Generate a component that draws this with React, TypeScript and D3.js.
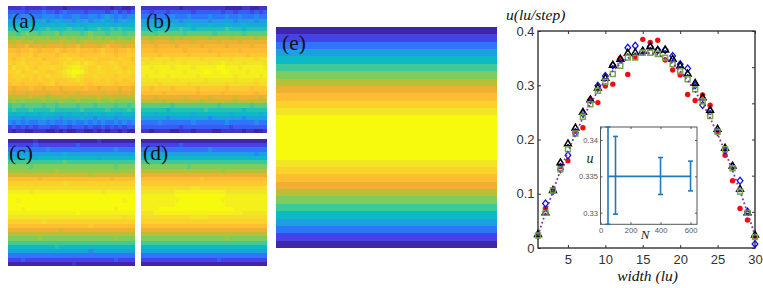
import React, { useEffect, useRef } from 'react';
import * as d3 from 'd3';

// levels of the stepped colour bar, one colour per level
const heatColors = ['#3e26a8', '#4543e8', '#2f74fb', '#1fa0e0', '#08b9c5', '#3cc99a', '#7dcc5c', '#bcbf35', '#ecb030', '#ffbe33', '#fbd22c', '#f1e525', '#f8fa0f'];

// cells, one char per cell, base 36, half levels
const panelA = [
  '111211112111101111111111011001',
  '333323334332343333233332342323',
  '454555445554544554455456545455',
  '666576667567666566756676656766',
  '788778877787887787788878778788',
  '99a99a899a9999a999899a99a9a999',
  'bbabcbbabbbcabbbbabcbbbabbbabb',
  'cdcdccddcdccddcdcccdcdcdccdccd',
  'eefeefdeeeeefeeedefeeeeefeeeee',
  'gfgghfggfggggfgghfgggfghgggfgg',
  'iihiijihiiijihiijiiihijiihiiji',
  'jjijjkijjjjijkjjjijjjjkjjijjkj',
  'jijkjjjkijjjkklkkkjjkjjjjjkjji',
  'kjkljkkjkkjjklklmkmlkjkklkjkkj',
  'jlkklkjkkklkklmnnmlkklkkklkjkk',
  'kkljkklkkjjklmnoonlkkllkkklklk',
  'jkklkkjkklkkklmnmlkklkkkkjkkkj',
  'jjkjjkjkjjkjjjkklkjjkkjkjjkjjj',
  'ijjijjjijjkijjjjjkjijjjjjijjji',
  'hghhhihhghhhghhhhhihhghhhhghhg',
  'gfggfggggfgggfggfgggggfgggfggf',
  'eeeeefeeedeeefeeeeeeefeeeeeeee',
  'cdcdccccdcccdcccdccccdccdccccc',
  'abbabbbbabbabbbbabbbabbbbabbab',
  '9a999a9999a999999a99999a9999a9',
  '878878878887787887878878877887',
  '666566667666566667665666656666',
  '545454455454454544545454454545',
  '232323233322332333232232323233',
  '101100111001010011001010110100',
];
const panelB = [
  '111111111011111111110000110011',
  '332333233333233333323323332323',
  '444544454445444454445445444544',
  '666656666566666656666656666566',
  '777877787778777787778777877777',
  '999899999a9989999999a999899999',
  'bbbabbbbbbabbbbbbabbbbbbabbbbb',
  'eedeeeededeeeeeedeeeedeeeeedee',
  'ggfggggfggggfgggggfggggfgggggg',
  'hhhghhhhghhhhhghhhhhghhhhhghhh',
  'iiihiiiiiihiiiiihiiiiiihiiiiii',
  'jjjjijjjjjjijjjjjjijjjjjjijjjj',
  'llkllllkllllllkllllllklllllkll',
  'mlmmmlmmmmlmmmmmlmmnmmmmlmmmml',
  'nnmnnnnmnnnnmnnnnnoonnnmnnnnnm',
  'nnnmnnnnnnmnnnnoonnoonnnnmnnnn',
  'nmnnnnmnnnnnnmnnnnnnnnmnnnnnmn',
  'mmmlmmmmlmmmmmmlmmmmmmlmmmmlmm',
  'llllkllllllkllllllllkllllllkll',
  'jjijjjjijjjjjijjjjjjijjjjjijjj',
  'iiiiihiiiiiiihiiiiihiiiiiiihii',
  'gggfggggggfgggggfgggggfgggggfg',
  'eeeeedeeeeeeeedeeeeeeedeeeeeee',
  'bbbbbbbabbbbbbbbbbabbbbbbbabbb',
  '999999899999999a99999999899999',
  '888788888888788888888788888878',
  '666666566666666656666666566666',
  '444454444444544444445444444544',
  '333333333233333333333233333333',
  '110111100111011110011111011001',
];
const panelC = [
  '000000100000000000000100000000',
  '222222322222222232222222222222',
  '444444444544444444444444454444',
  '666666666666676666666666666666',
  '888888788888888888888788888888',
  'aaaaaaaaaaaaabaaaaaaaaaaaaaaaa',
  'cccccbcccccccccccccccccccbcccc',
  'dddddddddddeddddddddddddddddde',
  'fffffffffffffffffffeffffffffff',
  'iiiiiiihiiiiiiiiiiiiiiiihiiiii',
  'kkkkkkkkkkkkklkkkkkkkkkkkkkkkk',
  'llllllllllllllllllllllllllllll',
  'nnnnnmnnnnnnnnnnnnnnnnmnnnnnnn',
  'oooooooooooooooooooooooooooooo',
  'oonoooooooooooooooooooooooonoo',
  'oooooooooooooooooooooooooooooo',
  'ooonooooooooooooooooooooonoooo',
  'nnnnnnnnnnnnnnnnonnnnnnnnnnnnn',
  'mmmmmmmmmmmmmmmmmmmmmmmmmmmlmm',
  'kkkkkkkklkkkkkkkkkkkkkkkkkkkkk',
  'iiiiiiiiiiiiiiiiiiijiiiiiiiiii',
  'ggggggggggggfggggggggggggggggg',
  'eeeeeeeeeeeeeeeeeeeeeeeeeeeeee',
  'cccccccdcccccccccccccccccdcccc',
  'aaaaaaaaaaaaaaaaaaaaaaaaaaaaaa',
  '888888888889888888888888888888',
  '666666666666666666656666666666',
  '444444444444444444444444444444',
  '222322222222222222222222232222',
  '000000000000000100000000000000',
];
const panelD = [
  '000000000000000000000000000000',
  '222222222322222222222222222222',
  '444444444444444454444444444444',
  '666666666666666666666666666566',
  '888878888888888888888888888888',
  'aaaaaaaaaaaaaaaaaaaaaaaaaaaaaa',
  'cccccccccccbcccccccccccccccccc',
  'eeeeeeeeeeeeeeeeeeedeeeeeeeeee',
  'gggggggggggggggggggggggggggggg',
  'iiiiiiiiiiiiiijiiiiiiiiiiiiiii',
  'jjjjjjjjjjjjjjjjjjjjjjjjjjjjjj',
  'llllllllllllmmllllllllllllllll',
  'mmmmmmmmnnnnnnnnnnnnmmmmmmmmmm',
  'nnnnnnnnoooooooooooonnnnnnnnnn',
  'nnnnnnnnnoooooooooonnnnnnnnnnn',
  'nnnnnnnnoooooooooooonnnnnnnnnn',
  'nnnnoooooooooooooooooonnnnnnnn',
  'mmmnnnnnnnnnnnnnnnnnnnnnmmmmmm',
  'llllllllllllmmmmllllllllllllll',
  'kkkkkkkkkkkkkkkkkkkkkkkkkkkkkk',
  'iiiiiiiiiiiiiiiiiiiiiiiiiiiiii',
  'gggggggggggggggggggggggggggggg',
  'eeeeeeeeeeeeeeeeeeeeeeeeeeeeee',
  'ccccccccccccccccccccdccccccccc',
  'aaaaaaaaaaaaaaaaaaaaaaaaaaaaaa',
  '888888888888888888888888888888',
  '666666666666666666666666666666',
  '444444444444444444444444444444',
  '222222222222222222322222222222',
  '000000000000000000000000000000',
];
const panelE = ['0', '2', '4', '6', '8', 'a', 'c', 'e', 'g', 'i', 'k', 'm', 'o', 'o', 'o', 'o', 'o', 'o', 'm', 'k', 'i', 'g', 'e', 'c', 'a', '8', '6', '4', '2', '0'];

const widths = [1, 2, 3, 4, 5, 6, 7, 8, 9, 10, 11, 12, 13, 14, 15, 16, 17, 18, 19, 20, 21, 22, 23, 24, 25, 26, 27, 28, 29, 30];
const redVals = [0.023, 0.073, 0.105, 0.15, 0.161, 0.215, 0.2217, 0.273, 0.268, 0.2986, 0.302, 0.35, 0.32, 0.351, 0.3846, 0.379, 0.383, 0.3465, 0.328, 0.319, 0.283, 0.272, 0.282, 0.263, 0.214, 0.171, 0.124, 0.073, 0.0516, 0.021];
const blueVals = [0.023, 0.082, 0.105, 0.145, 0.171, 0.212, 0.248, 0.273, 0.299, 0.317, 0.337, 0.348, 0.369, 0.373, 0.362, 0.371, 0.365, 0.365, 0.354, 0.3385, 0.331, 0.3, 0.2635, 0.2525, 0.214, 0.18, 0.15, 0.124, 0.067, 0.0074];
const blackVals = [0.025, 0.065, 0.106, 0.157, 0.192, 0.221, 0.25, 0.273, 0.295, 0.313, 0.337, 0.348, 0.359, 0.36, 0.363, 0.371, 0.364, 0.365, 0.348, 0.3355, 0.3207, 0.3035, 0.277, 0.254, 0.219, 0.184, 0.151, 0.108, 0.065, 0.024];
const greenVals = [0.023, 0.065, 0.106, 0.145, 0.182, 0.211, 0.242, 0.265, 0.29, 0.3065, 0.3207, 0.336, 0.351, 0.351, 0.36, 0.36, 0.3575, 0.351, 0.3385, 0.326, 0.311, 0.2925, 0.27, 0.243, 0.214, 0.182, 0.147, 0.104, 0.065, 0.02];
const purpleVals = [0.023, 0.065, 0.105, 0.143, 0.178, 0.21, 0.24, 0.266, 0.289, 0.309, 0.326, 0.34, 0.35, 0.356, 0.359, 0.359, 0.356, 0.35, 0.34, 0.326, 0.309, 0.289, 0.266, 0.24, 0.21, 0.178, 0.143, 0.105, 0.065, 0.023];

const insetN = [50, 100, 400, 600];
const insetU = [0.335, 0.335, 0.335, 0.335];
const insetLow = [0.3284, 0.3298, 0.3325, 0.333];
const insetHigh = [0.3418, 0.3405, 0.3376, 0.3371];

const xTicks = [5, 10, 15, 20, 25, 30];
const yTicks = [0, 0.1, 0.2, 0.3, 0.4];
const rightTicks = [0, 1, 2, 3, 4, 5, 6];
const insetXTicks = [0, 200, 400, 600];
const insetYTicks = [0.33, 0.335, 0.34];

const SERIF = '"Liberation Serif", serif';
const SANS = '"Liberation Sans", Arial, sans-serif';

function drawPanel(svg, levels, box, name, lx, ly) {
  const color = d3.scaleLinear<string>().domain(d3.range(heatColors.length)).range(heatColors);
  const rows = levels.length;
  const cols = levels[0].length;
  const xb = d3.scaleBand().domain(d3.range(cols).map(String)).range([box.x0, box.x1]);
  const yb = d3.scaleBand().domain(d3.range(rows).map(String)).range([box.y0, box.y1]);
  const g = svg.append('g').attr('class', 'panel').attr('filter', 'url(#soft)').style('shape-rendering', 'crispEdges');
  levels.forEach((row, r) => {
    for (let c = 0; c < cols; c++) {
      g.append('rect')
        .attr('x', xb(String(c)))
        .attr('y', yb(String(r)))
        .attr('width', xb.bandwidth() + (c < cols - 1 ? 0.5 : 0))
        .attr('height', yb.bandwidth() + (r < rows - 1 ? 0.5 : 0))
        .attr('fill', color(parseInt(row[c], 36) / 2));
    }
  });
  svg
    .append('text')
    .attr('x', lx)
    .attr('y', ly)
    .style('font-family', SERIF)
    .style('font-size', '21.5px')
    .style('fill', '#111')
    .text(name);
}

function styleAxis(g, size, color) {
  g.select('.domain').remove();
  g.selectAll('line').attr('stroke', color);
  g.selectAll('text').style('font-family', SANS).style('font-size', size).style('fill', color);
}

function drawChart(svg) {
  const x = d3.scaleLinear().domain([1, 30]).range([538, 755]);
  const y = d3.scaleLinear().domain([0, 0.4]).range([248, 31]);
  const right = d3.scaleLinear().domain([0, 6]).range([248, 31]);

  svg
    .append('rect')
    .attr('x', 538)
    .attr('y', 31)
    .attr('width', 217)
    .attr('height', 217)
    .attr('fill', 'none')
    .attr('stroke', '#333')
    .attr('stroke-width', 1.4);

  styleAxis(
    svg.append('g').attr('transform', 'translate(538,0)').call(d3.axisLeft(y).tickValues(yTicks).tickSize(-3).tickPadding(3.5).tickFormat(d3.format('~g'))),
    '13px',
    '#333'
  );
  styleAxis(
    svg.append('g').attr('transform', 'translate(0,248)').call(d3.axisBottom(x).tickValues(xTicks).tickSize(-3).tickPadding(6.5)),
    '13px',
    '#333'
  );
  styleAxis(svg.append('g').attr('transform', 'translate(0,31)').call(d3.axisTop(x).tickValues(xTicks).tickSize(-3).tickFormat(() => '')), '1px', '#333');
  styleAxis(svg.append('g').attr('transform', 'translate(755,0)').call(d3.axisRight(right).tickValues(rightTicks).tickSize(-3).tickFormat(() => '')), '1px', '#333');

  // markers, back to front
  const marks = svg.append('g').attr('filter', 'url(#softer)');
  widths.forEach((w, i) => {
    marks.append('circle').attr('cx', x(w)).attr('cy', y(redVals[i])).attr('r', 2.7).attr('fill', '#f01010');
  });
  const diamond = d3.symbol().type(d3.symbolSquare).size(20)();
  widths.forEach((w, i) => {
    marks
      .append('path')
      .attr('d', diamond)
      .attr('transform', `translate(${x(w)},${y(blueVals[i])}) scale(0.9,1.1) rotate(45)`)
      .attr('fill', 'none')
      .attr('stroke', '#1010e8')
      .attr('stroke-width', 1.3);
  });
  const triangle = d3.symbol().type(d3.symbolTriangle).size(20)();
  widths.forEach((w, i) => {
    marks
      .append('path')
      .attr('d', triangle)
      .attr('transform', `translate(${x(w)},${y(blackVals[i])})`)
      .attr('fill', 'none')
      .attr('stroke', '#000')
      .attr('stroke-width', 1.5);
  });
  widths.forEach((w, i) => {
    marks.append('circle').attr('cx', x(w)).attr('cy', y(blackVals[i]) + 1).attr('r', 1.1).attr('fill', '#14148c');
  });
  const square = d3.symbol().type(d3.symbolSquare).size(24)();
  widths.forEach((w, i) => {
    marks
      .append('path')
      .attr('d', square)
      .attr('transform', `translate(${x(w)},${y(greenVals[i])})`)
      .attr('fill', 'none')
      .attr('stroke', '#74ab4a')
      .attr('stroke-width', 1.5);
  });
  const line = d3
    .line<number>()
    .x(d => x(d))
    .y((d, i) => y(purpleVals[i]));
  marks
    .append('path')
    .attr('d', line(widths))
    .attr('fill', 'none')
    .attr('stroke', '#7b3aa8')
    .attr('stroke-width', 1.8)
    .attr('stroke-dasharray', '1.8 2.4');

  svg
    .append('text')
    .attr('x', 506)
    .attr('y', 20)
    .style('font-family', SERIF)
    .style('font-style', 'italic')
    .style('font-size', '15.5px')
    .style('fill', '#111')
    .text('u(lu/step)');
  svg
    .append('text')
    .attr('x', 647.5)
    .attr('y', 281)
    .attr('text-anchor', 'middle')
    .style('font-family', SERIF)
    .style('font-style', 'italic')
    .style('font-size', '15.5px')
    .style('fill', '#111')
    .text('width (lu)');

  // inset
  const ix = d3.scaleLinear().domain([0, 643]).range([600.5, 697]);
  const iy = d3.scaleLinear().domain([0.3284, 0.3418]).range([224.3, 127]);
  svg
    .append('rect')
    .attr('x', 600.5)
    .attr('y', 127)
    .attr('width', 96.5)
    .attr('height', 97.3)
    .attr('fill', '#fff')
    .attr('stroke', '#555')
    .attr('stroke-width', 1);
  styleAxis(
    svg.append('g').attr('transform', 'translate(600.5,0)').call(d3.axisLeft(iy).tickValues(insetYTicks).tickSize(-2).tickPadding(2.5).tickFormat(d3.format('~g'))),
    '7.6px',
    '#555'
  );
  styleAxis(
    svg.append('g').attr('transform', 'translate(0,224.3)').call(d3.axisBottom(ix).tickValues(insetXTicks).tickSize(-2).tickPadding(3.5)),
    '7.6px',
    '#555'
  );
  styleAxis(svg.append('g').attr('transform', 'translate(0,127)').call(d3.axisTop(ix).tickValues(insetXTicks).tickSize(-2).tickFormat(() => '')), '1px', '#555');
  styleAxis(svg.append('g').attr('transform', 'translate(697,0)').call(d3.axisRight(iy).tickValues(insetYTicks).tickSize(-2).tickFormat(() => '')), '1px', '#555');

  const blue = '#1f7ab8';
  const insetLine = d3
    .line<number>()
    .x(d => ix(d))
    .y((d, i) => iy(insetU[i]));
  svg.append('path').attr('d', insetLine(insetN)).attr('fill', 'none').attr('stroke', blue).attr('stroke-width', 1.6);
  insetN.forEach((n, i) => {
    svg.append('line').attr('x1', ix(n)).attr('x2', ix(n)).attr('y1', iy(insetLow[i])).attr('y2', iy(insetHigh[i])).attr('stroke', blue).attr('stroke-width', 1.6);
    [insetLow[i], insetHigh[i]].forEach(v => {
      svg.append('line').attr('x1', ix(n) - 2.5).attr('x2', ix(n) + 2.5).attr('y1', iy(v)).attr('y2', iy(v)).attr('stroke', blue).attr('stroke-width', 1.6);
    });
  });
  svg
    .append('text')
    .attr('x', 590)
    .attr('y', 163)
    .attr('text-anchor', 'middle')
    .style('font-family', SERIF)
    .style('font-style', 'italic')
    .style('font-size', '14px')
    .style('fill', '#222')
    .text('u');
  svg
    .append('text')
    .attr('x', 645)
    .attr('y', 239)
    .attr('text-anchor', 'middle')
    .style('font-family', SERIF)
    .style('font-style', 'italic')
    .style('font-size', '13px')
    .style('fill', '#222')
    .text('N');
}

export default function App() {
  const ref = useRef<SVGSVGElement>(null);
  useEffect(() => {
    const svg = d3.select(ref.current);
    svg.selectAll('*').remove();
    const defs = svg.append('defs');
    defs.append('filter').attr('id', 'soft').append('feGaussianBlur').attr('stdDeviation', 0.45);
    defs.append('filter').attr('id', 'softer').append('feGaussianBlur').attr('stdDeviation', 0.25);
    drawPanel(svg, panelA, { x0: 8, x1: 135, y0: 6, y1: 133 }, '(a)', 12, 28);
    drawPanel(svg, panelB, { x0: 141, x1: 267, y0: 6, y1: 133 }, '(b)', 146, 28);
    drawPanel(svg, panelC, { x0: 8, x1: 135, y0: 139, y1: 266 }, '(c)', 9, 160);
    drawPanel(svg, panelD, { x0: 141, x1: 267, y0: 139, y1: 266 }, '(d)', 143, 160);
    drawPanel(svg, panelE, { x0: 276, x1: 497, y0: 27, y1: 248 }, '(e)', 282, 50);
    drawChart(svg);
  }, []);
  return <svg ref={ref} width={763} height={288} style={{ position: 'absolute', left: 0, top: 0, background: '#fff' }} />;
}
